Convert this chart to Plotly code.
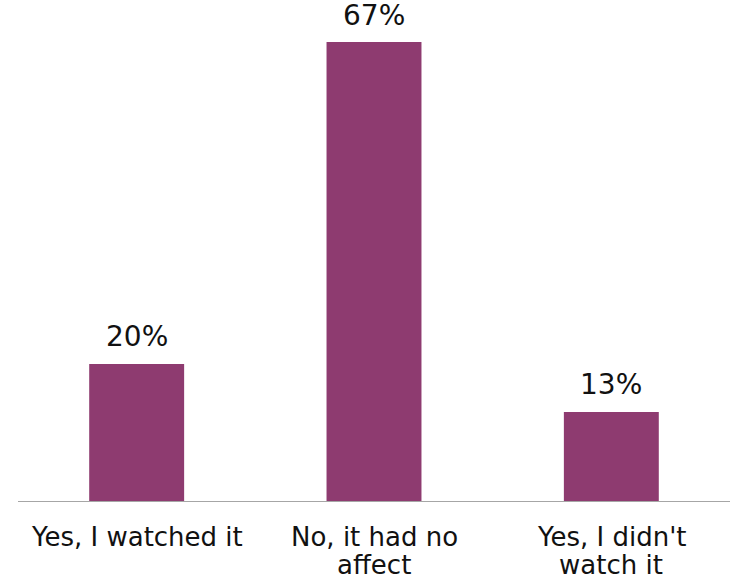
import plotly.graph_objects as go

# Survey responses
categories = ["Yes, I watched it", "No, it had no affect", "Yes, I didn't watch it"]
label_lines = [["Yes, I watched it"], ["No, it had no", "affect"], ["Yes, I didn't", "watch it"]]
shares = [20, 67, 13]

BAR_COLOR = "#8E3B70"
TEXT_COLOR = "#111111"
FONT = "DejaVu Sans, Verdana, sans-serif"

fig = go.Figure(
    go.Bar(
        x=categories,
        y=shares,
        marker=dict(color=BAR_COLOR, line=dict(width=0)),
        width=0.4,
        hoverinfo="skip",
    )
)

# Percentage labels above each bar
for cat, val in zip(categories, shares):
    fig.add_annotation(
        x=cat, y=val, text=f"{val}%", showarrow=False,
        yanchor="middle", yshift=27,
        font=dict(family=FONT, size=28, color=TEXT_COLOR),
    )

# Category labels below the axis, with tight line spacing
for cat, lines in zip(categories, label_lines):
    for i, line in enumerate(lines):
        fig.add_annotation(
            x=cat, xref="x", y=0, yref="paper", text=line, showarrow=False,
            yanchor="middle", yshift=-36 - 28 * i,
            font=dict(family=FONT, size=26, color=TEXT_COLOR),
        )

fig.update_layout(
    width=734, height=582,
    margin=dict(l=18, r=4, t=0, b=81),
    paper_bgcolor="white", plot_bgcolor="white",
    showlegend=False,
    font=dict(family=FONT, size=24, color=TEXT_COLOR),
    xaxis=dict(
        showline=True, linecolor="#A6A6A6", linewidth=1,
        showgrid=False, ticks="", zeroline=False, showticklabels=False,
    ),
    yaxis=dict(
        range=[0, 67 * 501 / 459], visible=False, showgrid=False, zeroline=False,
    ),
)

fig.write_html("out.html")
